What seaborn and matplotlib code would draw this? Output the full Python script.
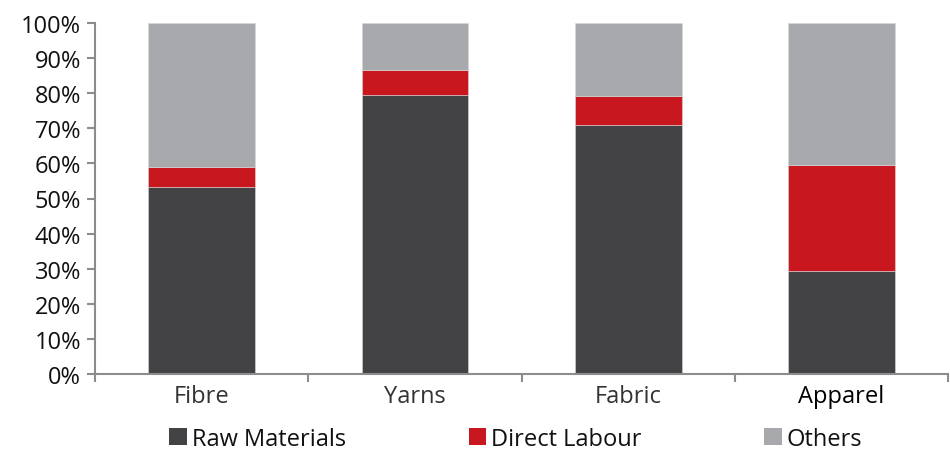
import matplotlib
matplotlib.use("Agg")
import matplotlib.pyplot as plt
import seaborn as sns
import numpy as np
import pandas as pd
from matplotlib.patches import Patch
from matplotlib.ticker import FixedLocator

categories = ["Fibre", "Yarns", "Fabric", "Apparel"]
raw_materials = [53.2, 79.6, 71.0, 29.4]
direct_labour = [5.8, 7.0, 8.1, 30.1]
others = [41.0, 13.4, 20.9, 40.5]
series_names = ["Raw Materials", "Direct Labour", "Others"]
colors = ["#434345", "#C8171E", "#A8A9AD"]
y_ticks = list(range(0, 101, 10))

sns.set_theme(style="white")
plt.rcParams["font.family"] = ["Open Sans", "DejaVu Sans"]

df = pd.DataFrame({"category": categories, "Raw Materials": raw_materials,
                   "Direct Labour": direct_labour, "Others": others})

fig = plt.figure(figsize=(9.5, 4.56), dpi=100)
ax = fig.add_axes([0.1, 0.178, 0.898, 0.769])

bottom = np.zeros(len(categories))
for name, col in zip(series_names, colors):
    sns.barplot(data=df, x="category", y=name, color=col, width=0.5,
                bottom=bottom, ax=ax, edgecolor="#d8d8d8", linewidth=0.4,
                saturation=1)
    bottom = bottom + df[name].values

ax.set_xlim(-0.5, 3.5)
ax.set_ylim(0, 100)
ax.set_yticks(y_ticks)
ax.set_yticklabels([f"{v}%" for v in y_ticks], fontsize=17, color="#111111")
ax.set_xticks(range(len(categories)))
ax.set_xticklabels(categories, fontsize=17)
for lbl, c in zip(ax.get_xticklabels(), ["#333333", "#333333", "#333333", "#000000"]):
    lbl.set_color(c)
ax.tick_params(axis="x", which="major", length=0, pad=7)
ax.xaxis.set_minor_locator(FixedLocator([-0.5, 0.5, 1.5, 2.5, 3.5]))
ax.tick_params(axis="x", which="minor", length=6, width=1.5, color="#8c8c8c", direction="out", bottom=True)
ax.tick_params(axis="y", length=6, width=1.5, color="#8c8c8c", direction="out", left=True, pad=4)
ax.set_xlabel("")
ax.set_ylabel("")
for s in ["top", "right"]:
    ax.spines[s].set_visible(False)
for s in ["left", "bottom"]:
    ax.spines[s].set_color("#8c8c8c")
    ax.spines[s].set_linewidth(1.5)

handles = [Patch(facecolor=c, edgecolor="none") for c in colors]
fig.legend(handles, series_names, loc="center", bbox_to_anchor=(0.543, 0.036),
           ncol=3, frameon=False, fontsize=17, handlelength=0.75, handleheight=0.75,
           handletextpad=0.2, columnspacing=5.2, labelcolor="#111111",
           borderpad=0.1)

fig.savefig("out.png", dpi=100)
